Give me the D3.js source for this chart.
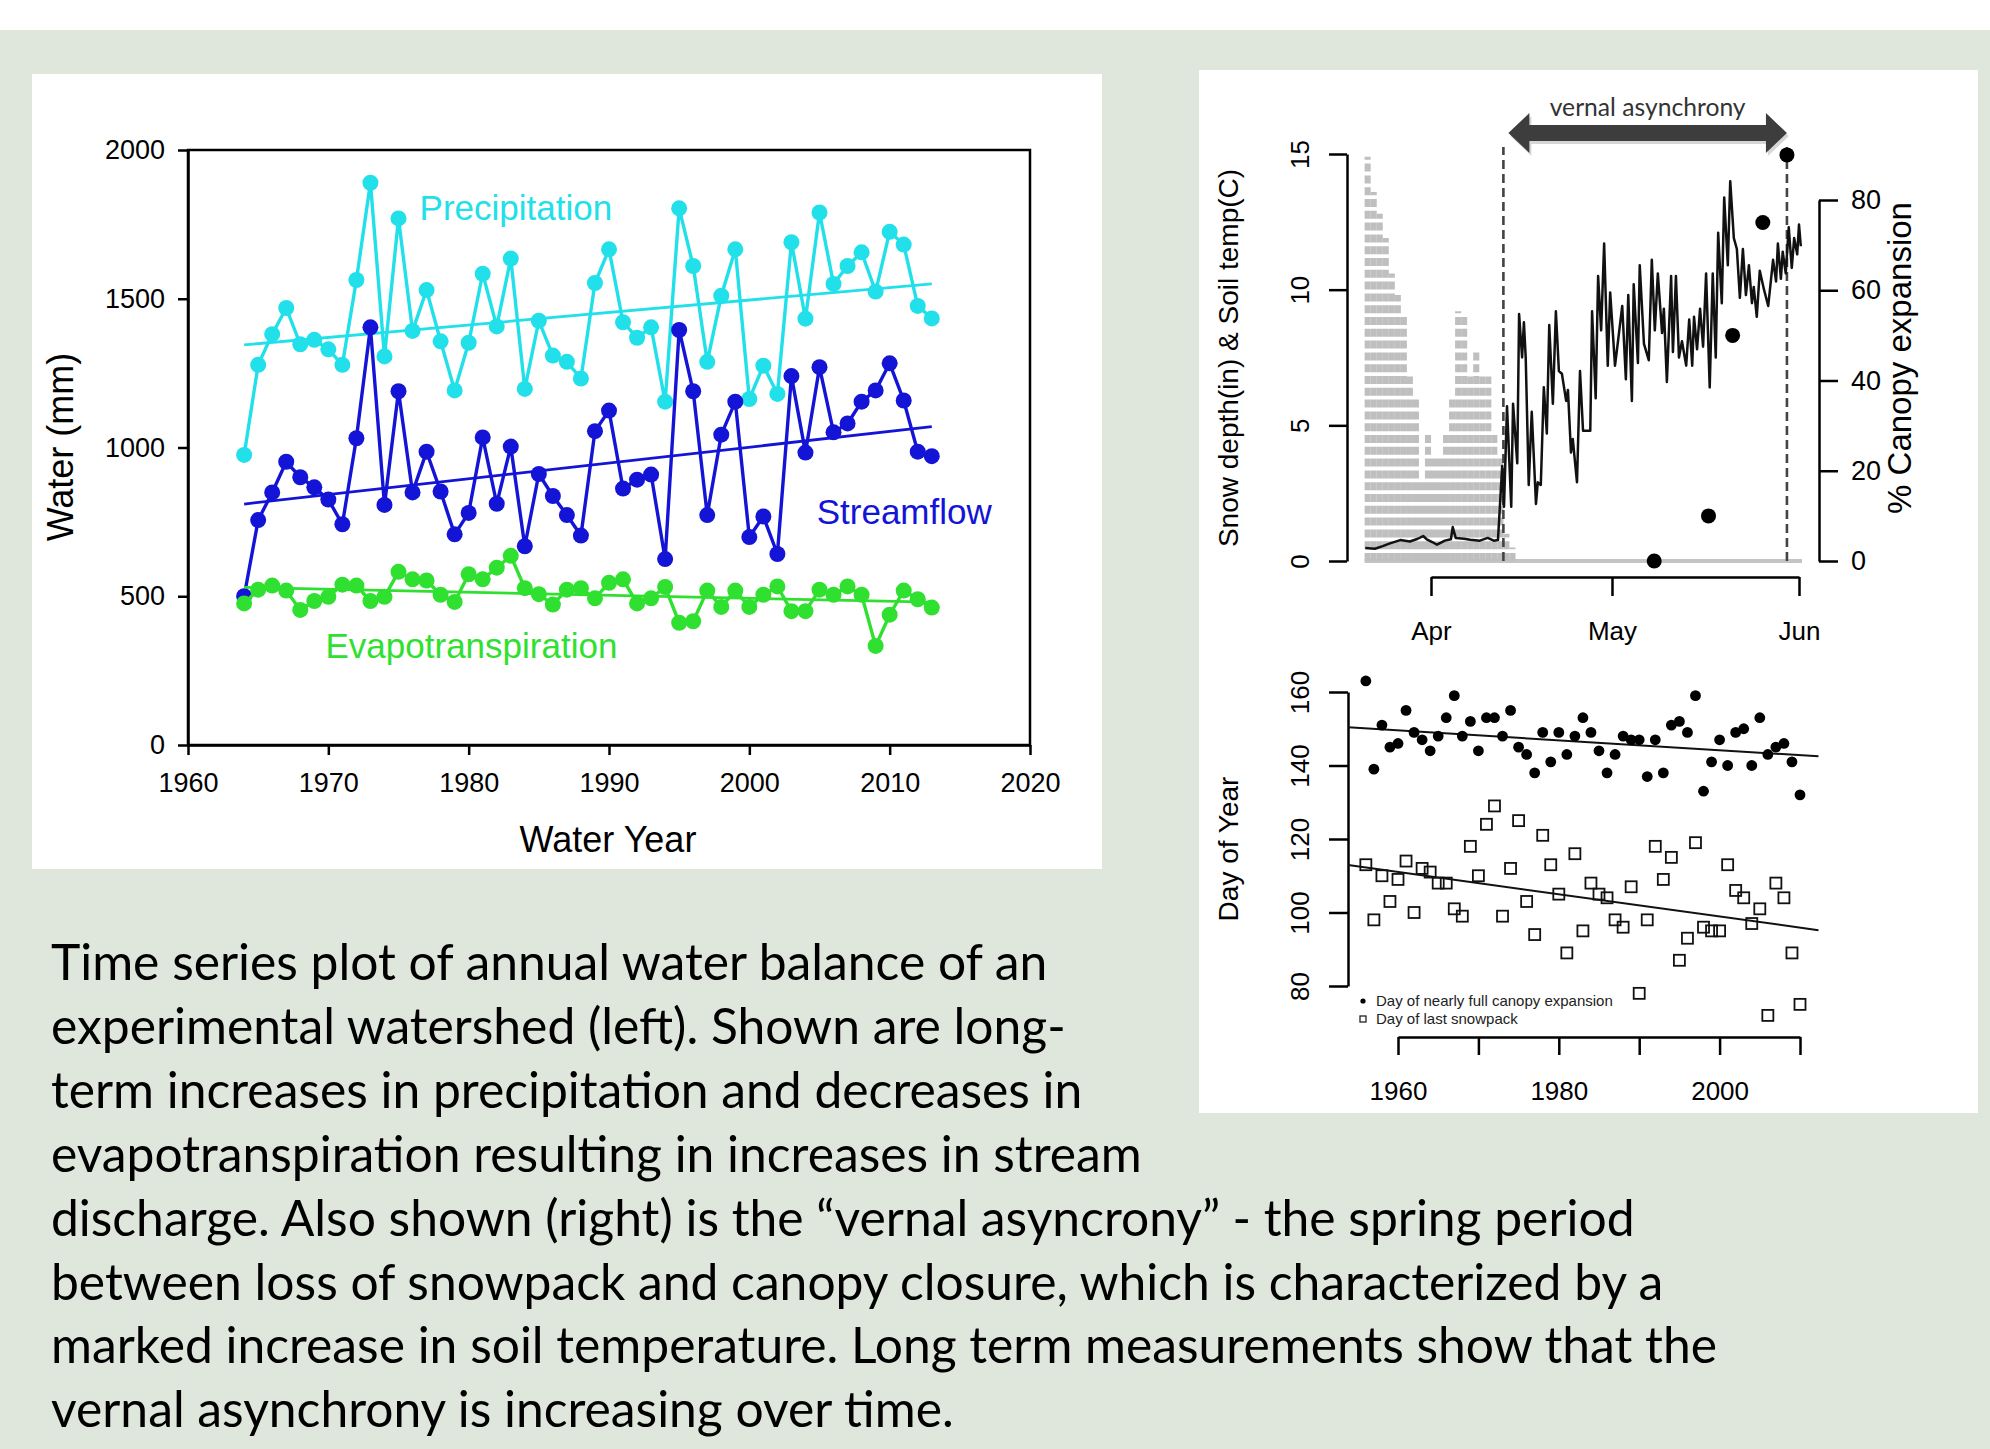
<!DOCTYPE html>
<html>
<head>
<meta charset="utf-8">
<script src="https://cdn.jsdelivr.net/npm/d3@7"></script>
<style>
  body { margin: 0; background: #dfe6dc; }
</style>
</head>
<body>
<svg id="fig" width="1990" height="1449" font-family="'Liberation Sans', Arial, sans-serif"></svg>
<script>
// ---- left panel: annual water balance, water years 1964-2013 (mm)
const waterYears = [1964,1965,1966,1967,1968,1969,1970,1971,1972,1973,1974,1975,1976,1977,1978,1979,
  1980,1981,1982,1983,1984,1985,1986,1987,1988,1989,1990,1991,1992,1993,1994,1995,1996,1997,1998,1999,
  2000,2001,2002,2003,2004,2005,2006,2007,2008,2009,2010,2011,2012,2013];
const precipitation = [975,1278,1381,1469,1347,1362,1330,1278,1563,1890,1306,1770,1392,1529,1357,1192,
  1352,1584,1407,1635,1197,1426,1309,1288,1232,1553,1666,1421,1369,1404,1154,1804,1610,1288,1510,1666,
  1163,1275,1180,1690,1433,1790,1550,1610,1656,1524,1725,1682,1476,1434];
const streamflow = [500,756,849,952,900,866,825,742,1031,1404,807,1189,849,986,852,708,
  780,1034,811,1003,668,911,837,773,704,1055,1124,862,892,909,625,1395,1189,773,1043,1154,
  699,768,642,1240,983,1270,1051,1081,1154,1192,1283,1158,986,971];
const evapotranspiration = [476,522,536,519,454,484,498,539,536,484,498,582,557,553,505,481,
  574,557,596,636,527,507,472,522,527,493,545,557,476,493,531,411,416,519,464,519,
  464,505,533,450,450,522,505,533,505,333,438,519,490,462];
// fitted trend lines, read at first and last year
const trendYears = [1964, 2013];
const precipTrend = [1345, 1550];
const flowTrend = [810, 1070];
const etTrend = [530, 480];
const waterTicks = [0, 500, 1000, 1500, 2000];
const yearTicks = [1960, 1970, 1980, 1990, 2000, 2010, 2020];

// ---- right top: one spring, day of year
const monthDoy = [91, 121, 152];
const monthNames = ["Apr", "May", "Jun"];
const snowDoy = [80,81,82,83,84,85,86,87,88,89,90,91,92,93,94,95,96,97,98,99,100,101,102,103,104];
const snowDepth = [14.9,13.6,12.8,11.9,10.6,9.8,9.0,6.8,6.0,3.0,4.7,3.9,3.9,4.7,6.0,9.2,9.0,6.8,7.7,6.8,6.8,4.7,3.9,1.0,0.5];
const soilDoy = [80.1,81.7,83.0,84.2,85.9,87.5,88.8,89.7,90.3,91.2,92.0,93.3,94.3,94.6,95.1,96.5,97.5,99.1,100.4,101.4,102.1,
  102.8,103.1,103.6,104.3,104.6,105.3,105.6,106.1,106.4,106.7,107.2,107.7,108.4,108.7,109.2,109.7,110.2,110.6,111.2,111.7,
  112.2,112.7,113.4,113.7,114.2,114.5,115.2,115.7,116.2,117.4,117.7,118.3,118.7,119.2,119.7,120.3,120.7,121.5,122.0,122.7,
  123.3,123.7,124.3,124.6,125.3,125.6,126.3,127.1,127.6,128.1,128.6,129.3,129.6,130.1,130.8,131.1,131.6,132.1,132.6,133.3,
  133.8,134.3,134.6,135.1,135.6,136.1,136.6,137.2,137.7,138.2,138.6,139.2,139.6,140.2,140.6,141.2,141.7,142.2,142.7,143.2,
  143.7,144.2,144.5,145.0,145.5,146.2,146.9,147.7,148.2,148.5,149.0,149.3,149.8,150.3,150.8,151.2,151.7,152.0,152.3];
const soilTemp = [0.48,0.45,0.55,0.65,0.77,0.72,0.82,0.92,0.80,0.70,0.60,0.75,0.80,1.25,0.85,0.82,0.78,0.75,0.85,0.75,0.77,
  3.5,2.0,5.7,2.0,5.8,3.6,9.1,7.5,8.8,7.5,2.8,5.5,2.1,2.9,2.8,6.4,4.7,8.7,5.8,9.2,
  7.0,6.9,5.9,6.3,4.0,4.5,2.9,7.0,4.8,4.8,9.2,6.0,10.5,8.5,11.7,7.2,9.9,7.2,8.1,9.4,
  6.7,9.8,5.9,10.2,7.3,10.9,8.0,7.4,11.1,8.5,10.6,8.4,9.3,6.6,10.5,7.7,10.5,7.5,8.1,7.2,
  8.9,7.2,9.0,7.8,9.3,7.9,10.6,6.4,10.6,7.5,12.1,9.5,13.4,10.9,14.0,11.9,11.5,9.7,11.5,9.8,
  10.9,9.5,10.1,9.0,10.7,10.0,9.4,11.1,10.3,11.7,10.4,11.4,10.6,12.3,10.8,11.9,11.3,12.4,11.6];
const canopyDoy = [128, 137, 141, 146, 150];
const canopyPct = [0, 10, 50, 75, 90];
const snowmeltDoy = 103;
const leafoutDoy = 150;
const depthTicks = [0, 5, 10, 15];
const pctTicks = [0, 20, 40, 60, 80];

// ---- right bottom: dates by year
const phenoYears = [1956,1957,1958,1959,1960,1961,1962,1963,1964,1965,1966,1967,1968,1969,1970,1971,1972,1973,
  1974,1975,1976,1977,1978,1979,1980,1981,1982,1983,1984,1985,1986,1987,1988,1989,1990,1991,1992,1993,1994,
  1995,1996,1997,1998,1999,2000,2001,2002,2003,2004,2005,2006,2007,2008,2009,2010];
const canopyDay = [163,139,151,145,146,155,149,147,144,148,153,159,148,152,144,153,153,148,155,145,143,138,
  149,141,149,143,148,153,149,144,138,143,148,147,147,137,147,138,151,152,149,159,133,141,147,140,149,150,
  140,153,143,145,146,141,132];
const snowpackDay = [113,98,110,103,109,114,100,112,111,108,108,101,99,118,110,124,129,99,112,125,103,94,
  121,113,105,89,116,95,108,105,104,98,96,107,78,98,118,109,115,87,93,119,96,95,95,113,106,104,97,101,
  72,108,104,89,75];
const canopyFit = [[1953.8, 150.4], [2012.3, 142.5]];
const snowpackFit = [[1953.8, 112.9], [2012.3, 95.2]];
const dayTicks = [80, 100, 120, 140, 160];
const decadeTicks = [1960, 1970, 1980, 1990, 2000, 2010];
const decadeLabels = [1960, 1980, 2000];

const captionLines = [
  "Time series plot of annual water balance of an",
  "experimental watershed (left). Shown are long-",
  "term increases in precipitation and decreases in",
  "evapotranspiration resulting in increases in stream",
  "discharge. Also shown (right) is the \u201cvernal asyncrony\u201d - the spring period",
  "between loss of snowpack and canopy closure, which is characterized by a",
  "marked increase in soil temperature. Long term measurements show that the",
  "vernal asynchrony is increasing over time."
];

const COL = { precip: "#22e0ea", flow: "#1414d6", et: "#30e030" };
const CALIBRI = "Lato, 'Open Sans', sans-serif";

const svg = d3.select("#fig");
svg.append("rect").attr("width", 1990).attr("height", 1449).attr("fill", "#dfe6dc");
svg.append("rect").attr("width", 1990).attr("height", 30).attr("fill", "#fff");
svg.append("rect").attr("x", 32).attr("y", 74).attr("width", 1070).attr("height", 795).attr("fill", "#fff");
svg.append("rect").attr("x", 1199).attr("y", 70).attr("width", 779).attr("height", 1043).attr("fill", "#fff");

function styleAxis(g, size, width) {
  g.attr("font-family", null);
  g.select(".domain").attr("stroke", "#000").attr("stroke-width", width);
  g.selectAll(".tick line").attr("stroke", "#000").attr("stroke-width", width);
  g.selectAll(".tick text").attr("font-size", size).attr("fill", "#000");
}

// R style labels, turned to read upward
function turnLabels(g, off) {
  g.selectAll(".tick text")
    .attr("x", null).attr("dy", null)
    .attr("text-anchor", "middle")
    .attr("transform", `translate(${off},0) rotate(-90)`);
}

// ================= left chart =================
const x = d3.scaleLinear().domain([1960, 2020]).range([188, 1030]);
const y = d3.scaleLinear().domain([0, 2000]).range([745, 150]);
const left = svg.append("g");

left.append("g").attr("transform", "translate(188,0)")
  .call(d3.axisLeft(y).tickValues(waterTicks).tickFormat(d3.format("d"))
    .tickSize(10).tickSizeOuter(0).tickPadding(13))
  .call(g => styleAxis(g, 27, 2.5));
left.append("g").attr("transform", "translate(0,745)")
  .call(d3.axisBottom(x).tickValues(yearTicks).tickFormat(d3.format("d")).tickSize(10).tickSizeOuter(0).tickPadding(18))
  .call(g => styleAxis(g, 27, 2.5));
left.append("rect").attr("x", x(1960)).attr("y", y(2000))
  .attr("width", x(2020) - x(1960)).attr("height", y(0) - y(2000))
  .attr("fill", "none").attr("stroke", "#000").attr("stroke-width", 2.5);

const series = [
  { values: precipitation, trend: precipTrend, color: COL.precip },
  { values: streamflow, trend: flowTrend, color: COL.flow },
  { values: evapotranspiration, trend: etTrend, color: COL.et }
];
const yearLine = d3.line().x((d, i) => x(waterYears[i])).y(d => y(d));
series.forEach(s => {
  const g = left.append("g");
  g.append("path").attr("d", yearLine(s.values))
    .attr("fill", "none").attr("stroke", s.color).attr("stroke-width", 3.4);
  g.append("path")
    .attr("d", d3.line().x((d, i) => x(trendYears[i])).y(d => y(d))(s.trend))
    .attr("fill", "none").attr("stroke", s.color).attr("stroke-width", 2.8);
  g.selectAll("circle").data(s.values).join("circle")
    .attr("cx", (d, i) => x(waterYears[i])).attr("cy", d => y(d))
    .attr("r", 8).attr("fill", s.color);
});

left.append("text").attr("x", x(1976.5)).attr("y", y(1765)).attr("font-size", 35)
  .attr("fill", COL.precip).text("Precipitation");
left.append("text").attr("x", x(2004.8)).attr("y", y(743)).attr("font-size", 35)
  .attr("fill", COL.flow).text("Streamflow");
left.append("text").attr("x", x(1969.8)).attr("y", y(292)).attr("font-size", 35)
  .attr("fill", COL.et).text("Evapotranspiration");

left.append("text").attr("x", 608).attr("y", 852).attr("text-anchor", "middle")
  .attr("font-size", 36).text("Water Year");
left.append("text").attr("transform", "translate(73,447) rotate(-90)")
  .attr("text-anchor", "middle").attr("font-size", 36).text("Water (mm)");

// ================= right top chart =================
const xd = d3.scaleLinear().domain([91, 152]).range([1431, 1799]);
const yd = d3.scaleLinear().domain([0, 15]).range([561, 154]);
const yp = d3.scaleLinear().domain([0, 80]).range([561, 200]);
const topG = svg.append("g");

// snow depth: daily dashed bars that merge into grey stripes
topG.append("line").attr("x1", xd(80)).attr("x2", xd(152.5))
  .attr("y1", yd(0)).attr("y2", yd(0)).attr("stroke", "#c4c4c4").attr("stroke-width", 4);
topG.append("g").selectAll("line").data(snowDepth).join("line")
  .attr("x1", (d, i) => xd(snowDoy[i] + 0.5)).attr("x2", (d, i) => xd(snowDoy[i] + 0.5))
  .attr("y1", yd(0)).attr("y2", d => yd(d))
  .attr("stroke", "#bfbfbf").attr("stroke-width", 6.1).attr("stroke-dasharray", "8 3.8");

// dashed markers for snowmelt and leaf-out
topG.selectAll("line.mark").data([snowmeltDoy, leafoutDoy]).join("line").attr("class", "mark")
  .attr("x1", d => xd(d)).attr("x2", d => xd(d)).attr("y1", yd(0)).attr("y2", 147)
  .attr("stroke", "#444").attr("stroke-width", 2.6).attr("stroke-dasharray", "9 5");

topG.append("path")
  .attr("d", d3.line().x((d, i) => xd(soilDoy[i])).y(d => yd(d))(soilTemp))
  .attr("fill", "none").attr("stroke", "#111").attr("stroke-width", 2.5).attr("stroke-linejoin", "round");

topG.selectAll("circle").data(canopyPct).join("circle")
  .attr("cx", (d, i) => xd(canopyDoy[i])).attr("cy", d => yp(d)).attr("r", 7.5).attr("fill", "#000");

topG.append("g").attr("transform", "translate(1347,0)")
  .call(d3.axisLeft(yd).tickValues(depthTicks).tickSize(18).tickSizeOuter(0))
  .call(g => styleAxis(g, 26, 2.5))
  .call(g => turnLabels(g, -38));
topG.append("g").attr("transform", "translate(1819,0)")
  .call(d3.axisRight(yp).tickValues(pctTicks).tickSize(19).tickSizeOuter(0).tickPadding(13))
  .call(g => styleAxis(g, 27, 2.5));
topG.append("g").attr("transform", "translate(0,577)")
  .call(d3.axisBottom(xd).tickValues(monthDoy).tickFormat((d, i) => monthNames[i])
    .tickSize(19).tickSizeOuter(0).tickPadding(26))
  .call(g => styleAxis(g, 26, 2.5));

topG.append("text").attr("transform", "translate(1238,358) rotate(-90)")
  .attr("text-anchor", "middle").attr("font-size", 28).text("Snow depth(in) & Soil temp(C)");
topG.append("text").attr("transform", "translate(1911,358) rotate(-90)")
  .attr("text-anchor", "middle").attr("font-size", 33).text("% Canopy expansion");

// vernal asynchrony arrow between snowmelt and leaf-out
const ax0 = xd(snowmeltDoy) + 5, ax1 = xd(leafoutDoy), ay = 133;
const arrow = `M${ax0},${ay} L${ax0 + 21},${ay - 20} L${ax0 + 21},${ay - 8} L${ax1 - 21},${ay - 8}
  L${ax1 - 21},${ay - 20} L${ax1},${ay} L${ax1 - 21},${ay + 20} L${ax1 - 21},${ay + 8}
  L${ax0 + 21},${ay + 8} L${ax0 + 21},${ay + 20} Z`;
topG.append("path").attr("d", arrow).attr("transform", "translate(2,3)").attr("fill", "#bbb").attr("opacity", 0.6);
topG.append("path").attr("d", arrow).attr("fill", "#3d3d3d");
const va = topG.append("text").attr("x", (ax0 + ax1) / 2).attr("y", 116).attr("text-anchor", "middle")
  .attr("font-family", CALIBRI).attr("font-size", 26).attr("fill", "#333")
  .text("vernal asynchrony");
va.attr("font-size", 26 * 196 / va.node().getComputedTextLength());

// ================= right bottom chart =================
const xy = d3.scaleLinear().domain([1960, 2010]).range([1398, 1800]);
const yy = d3.scaleLinear().domain([80, 160]).range([986, 692]);
const bot = svg.append("g");

bot.append("g").attr("transform", "translate(1348,0)")
  .call(d3.axisLeft(yy).tickValues(dayTicks).tickSize(19).tickSizeOuter(0))
  .call(g => styleAxis(g, 26, 2.5))
  .call(g => turnLabels(g, -39));
bot.append("g").attr("transform", "translate(0,1037)")
  .call(d3.axisBottom(xy).tickValues(decadeTicks)
    .tickFormat(d => decadeLabels.includes(d) ? d : "").tickSize(18).tickSizeOuter(0).tickPadding(27))
  .call(g => styleAxis(g, 26, 2.5));

const fitLine = d3.line().x(d => xy(d[0])).y(d => yy(d[1]));
bot.append("path").attr("d", fitLine(canopyFit)).attr("stroke", "#111").attr("stroke-width", 2).attr("fill", "none");
bot.append("path").attr("d", fitLine(snowpackFit)).attr("stroke", "#111").attr("stroke-width", 2).attr("fill", "none");

bot.append("g").selectAll("circle").data(canopyDay).join("circle")
  .attr("cx", (d, i) => xy(phenoYears[i])).attr("cy", d => yy(d)).attr("r", 5.4).attr("fill", "#000");
bot.append("g").selectAll("rect").data(snowpackDay).join("rect")
  .attr("x", (d, i) => xy(phenoYears[i]) - 5.5).attr("y", d => yy(d) - 5.5)
  .attr("width", 11).attr("height", 11)
  .attr("fill", "none").attr("stroke", "#111").attr("stroke-width", 1.8);

bot.append("circle").attr("cx", 1363).attr("cy", 1001).attr("r", 2.6).attr("fill", "#000");
bot.append("rect").attr("x", 1360).attr("y", 1016).attr("width", 6).attr("height", 6)
  .attr("fill", "none").attr("stroke", "#222").attr("stroke-width", 1.3);
bot.append("text").attr("x", 1376).attr("y", 1006).attr("font-size", 15).attr("fill", "#222")
  .text("Day of nearly full canopy expansion");
bot.append("text").attr("x", 1376).attr("y", 1024).attr("font-size", 15).attr("fill", "#222")
  .text("Day of last snowpack");
bot.append("text").attr("transform", "translate(1238,849) rotate(-90)")
  .attr("text-anchor", "middle").attr("font-size", 28).text("Day of Year");

// ================= caption =================
const cap = svg.append("g").attr("fill", "#000").attr("font-family", CALIBRI);
const lines = cap.selectAll("text").data(captionLines).join("text")
  .attr("x", 51).attr("y", (d, i) => 980 + i * 63.9)
  .attr("font-size", 46)
  .text(d => d);
const longest = lines.nodes()[4].getComputedTextLength();
lines.attr("font-size", 46 * 1584 / longest);
</script>
</body>
</html>
